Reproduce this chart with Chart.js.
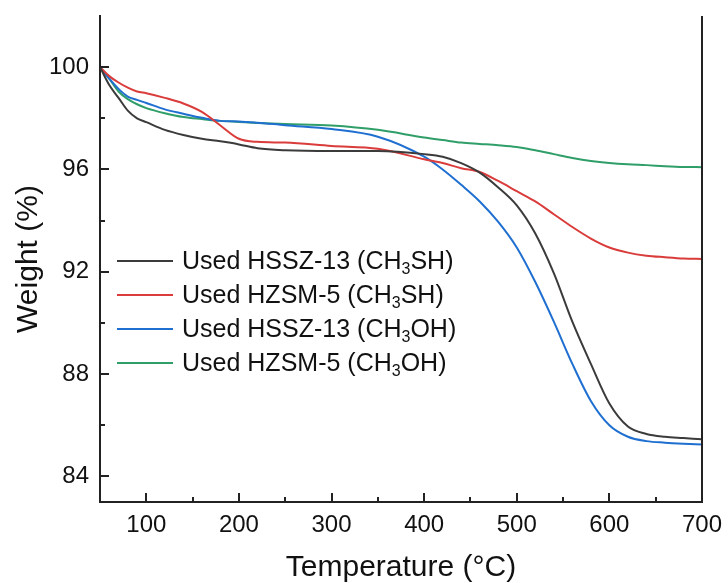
<!DOCTYPE html>
<html>
<head>
<meta charset="utf-8">
<script src="https://cdn.jsdelivr.net/npm/chart.js@4.4.0/dist/chart.umd.min.js"></script>
<style>
  html, body { margin: 0; padding: 0; background: #fff; }
  #wrap { position: relative; width: 728px; height: 583px; }
  #legend { position: absolute; left: 117px; top: 243px; font-family: "Liberation Sans", Arial, sans-serif; font-size: 25px; color: #111; }
  #legend .row { height: 34px; line-height: 34px; white-space: nowrap; }
  #legend .swatch { display: inline-block; width: 56px; height: 0; border-top: 2px solid; vertical-align: middle; margin-right: 9px; position: relative; top: -1px; }
  #legend sub { font-size: 16px; vertical-align: -5px; line-height: 0; }
</style>
</head>
<body>
<div id="wrap">
  <canvas id="tga" width="728" height="583"></canvas>
  <div id="legend"></div>
</div>
<script>
const temps = [50, 60, 70, 80, 90, 100, 120, 140, 160, 180, 200, 220, 250, 300, 350, 400, 420, 440, 460, 480, 500, 520, 540, 560, 580, 600, 620, 640, 660, 680, 700];

const hssz13Ch3sh = [100, 99.3, 98.8, 98.3, 98.0, 97.85, 97.55, 97.35, 97.2, 97.1, 96.98, 96.83, 96.75, 96.72, 96.72, 96.6, 96.5, 96.25, 95.88, 95.3, 94.6, 93.5, 91.95, 90.05, 88.4, 86.85, 85.95, 85.66, 85.55, 85.5, 85.45];
const hzsm5Ch3sh = [100, 99.65, 99.4, 99.2, 99.05, 98.98, 98.8, 98.58, 98.25, 97.72, 97.2, 97.08, 97.05, 96.92, 96.81, 96.4, 96.25, 96.05, 95.9, 95.55, 95.15, 94.75, 94.25, 93.75, 93.3, 92.95, 92.75, 92.63, 92.57, 92.52, 92.5];
const hssz13Ch3oh = [100, 99.55, 99.15, 98.85, 98.72, 98.6, 98.35, 98.18, 98.02, 97.9, 97.88, 97.83, 97.73, 97.58, 97.28, 96.5, 96.0, 95.4, 94.75, 93.95, 92.95, 91.6, 90.05, 88.4, 86.95, 86.0, 85.55, 85.38, 85.32, 85.28, 85.25];
const hzsm5Ch3oh = [100, 99.55, 99.05, 98.75, 98.55, 98.4, 98.2, 98.05, 97.97, 97.9, 97.86, 97.82, 97.78, 97.72, 97.55, 97.25, 97.15, 97.05, 97.0, 96.95, 96.88, 96.75, 96.6, 96.45, 96.33, 96.25, 96.2, 96.17, 96.13, 96.1, 96.09];

const seriesLabels = ['Used HSSZ-13 (CH<sub>3</sub>SH)', 'Used HZSM-5 (CH<sub>3</sub>SH)', 'Used HSSZ-13 (CH<sub>3</sub>OH)', 'Used HZSM-5 (CH<sub>3</sub>OH)'];
const seriesColors = ['#3b3b3b', '#d93c3a', '#1f6fd1', '#2f9e68'];

const xMajorTicks = [100, 200, 300, 400, 500, 600, 700];
const xMinorTicks = [150, 250, 350, 450, 550, 650];
const yMajorTicks = [84, 88, 92, 96, 100];
const yMinorTicks = [86, 90, 94, 98];

const FONT = '"Liberation Sans", Arial, sans-serif';
const AXIS_COLOR = '#222';

function toPoints(values) {
  return values.map((v, i) => ({ x: temps[i], y: v }));
}

function noScalePadding(s) {
  s.paddingTop = 0;
  s.paddingBottom = 0;
  s.paddingLeft = 0;
  s.paddingRight = 0;
}

const allSeries = [hssz13Ch3sh, hzsm5Ch3sh, hssz13Ch3oh, hzsm5Ch3oh];

// inward ticks + right frame line
const frameTicks = {
  id: 'frameTicks',
  afterDatasetsDraw(chart) {
    const { ctx, chartArea, scales } = chart;
    ctx.save();
    ctx.strokeStyle = AXIS_COLOR;
    ctx.lineWidth = 2;
    ctx.beginPath();
    ctx.moveTo(chartArea.right, chartArea.top);
    ctx.lineTo(chartArea.right, chartArea.bottom + 1);
    xMajorTicks.concat(xMinorTicks).forEach(t => {
      const len = xMajorTicks.includes(t) ? 9 : 5;
      const px = Math.round(scales.x.getPixelForValue(t));
      ctx.moveTo(px, chartArea.bottom);
      ctx.lineTo(px, chartArea.bottom - len);
    });
    yMajorTicks.concat(yMinorTicks).forEach(t => {
      const len = yMajorTicks.includes(t) ? 9 : 5;
      const py = Math.round(scales.y.getPixelForValue(t));
      ctx.moveTo(chartArea.left, py);
      ctx.lineTo(chartArea.left + len, py);
    });
    ctx.stroke();
    ctx.restore();
  }
};

const chart = new Chart(document.getElementById('tga'), {
  type: 'line',
  data: {
    datasets: allSeries.map((vals, i) => ({
      label: seriesLabels[i],
      data: toPoints(vals),
      borderColor: seriesColors[i],
      backgroundColor: seriesColors[i],
      borderWidth: 2,
      pointRadius: 0,
      cubicInterpolationMode: 'monotone',
      fill: false
    }))
  },
  options: {
    responsive: false,
    animation: false,
    layout: { padding: { top: 16, right: 26, left: 0, bottom: 0 } },
    plugins: {
      legend: { display: false },
      tooltip: { enabled: false }
    },
    scales: {
      x: {
        type: 'linear',
        min: 50,
        max: 700,
        afterBuildTicks: s => { s.ticks = xMajorTicks.map(v => ({ value: v })); },
        afterFit: s => { s.height = 81; noScalePadding(s); },
        grid: { display: true, drawOnChartArea: false, drawTicks: false },
        border: { display: true, color: AXIS_COLOR, width: 2 },
        ticks: { color: '#111', font: { family: FONT, size: 24 }, padding: 9, maxRotation: 0 },
        title: { display: true, text: 'Temperature (°C)', color: '#111', font: { family: FONT, size: 30, lineHeight: 1 }, padding: { top: 0, bottom: 0 } }
      },
      y: {
        min: 83,
        max: 102,
        afterBuildTicks: s => { s.ticks = yMajorTicks.map(v => ({ value: v })); },
        afterFit: s => { s.width = 100; noScalePadding(s); },
        grid: { display: true, drawOnChartArea: false, drawTicks: false },
        border: { display: true, color: AXIS_COLOR, width: 2 },
        ticks: { color: '#111', font: { family: FONT, size: 24 }, padding: 11 },
        title: { display: true, text: 'Weight (%)', color: '#111', font: { family: FONT, size: 30, lineHeight: 1 }, padding: { top: 14, bottom: 0 } }
      }
    }
  },
  plugins: [frameTicks]
});

// html legend so the subscripts render as in the figure
const legendBox = document.getElementById('legend');
chart.data.datasets.forEach(ds => {
  const row = document.createElement('div');
  row.className = 'row';
  row.innerHTML = `<span class="swatch" style="border-color:${ds.borderColor}"></span>${ds.label}`;
  legendBox.appendChild(row);
});
</script>
</body>
</html>
